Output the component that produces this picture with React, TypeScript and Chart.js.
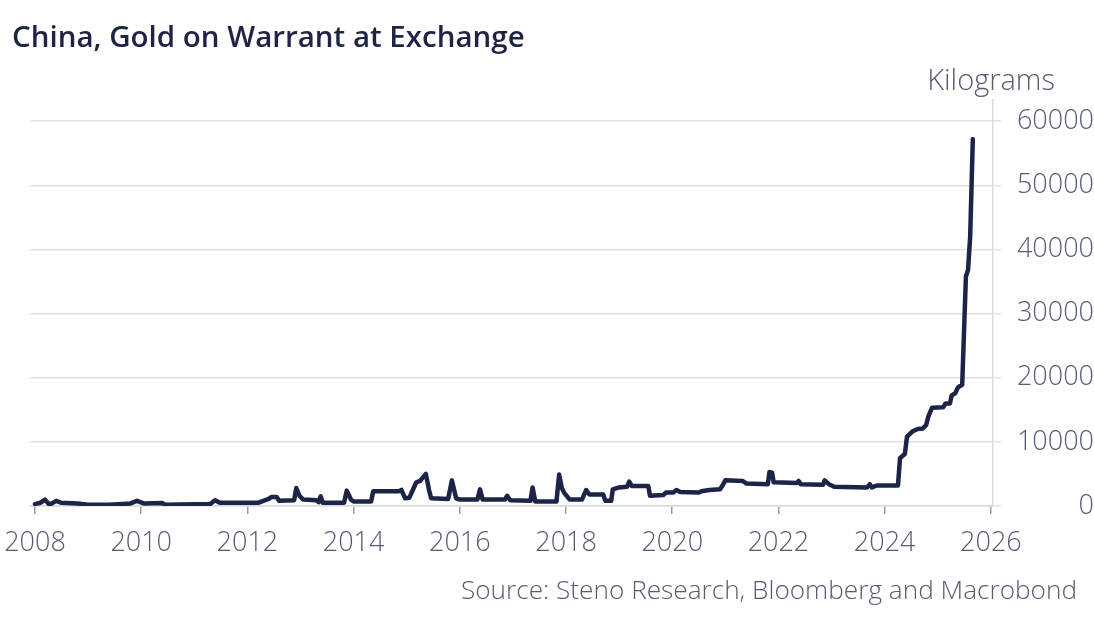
import React, { useEffect, useRef } from 'react';
import { Chart, registerables } from 'chart.js';

Chart.register(...registerables);

// Decimal-year dates and gold on warrant (kg)
const dates: number[] = [
  2008.0, 2008.1, 2008.19, 2008.26, 2008.32, 2008.4, 2008.5, 2008.8, 2009.0, 2009.4,
  2009.8, 2009.92, 2010.05, 2010.4, 2010.45, 2011.3, 2011.39, 2011.48, 2012.2, 2012.4,
  2012.45, 2012.55, 2012.6, 2012.88, 2012.92, 2012.98, 2013.05, 2013.3, 2013.34, 2013.38,
  2013.42, 2013.82, 2013.87, 2013.95, 2014.0, 2014.33, 2014.37, 2014.85, 2014.9, 2014.97,
  2015.05, 2015.18, 2015.25, 2015.36, 2015.42, 2015.46, 2015.78, 2015.85, 2015.93, 2016.0,
  2016.33, 2016.38, 2016.43, 2016.85, 2016.89, 2016.95, 2017.33, 2017.37, 2017.42, 2017.82,
  2017.87, 2017.92, 2017.97, 2018.07, 2018.3, 2018.38, 2018.44, 2018.7, 2018.74, 2018.85,
  2018.88, 2019.0, 2019.15, 2019.19, 2019.24, 2019.55, 2019.58, 2019.83, 2019.88, 2020.02,
  2020.08, 2020.15, 2020.5, 2020.55, 2020.7, 2020.9, 2020.94, 2021.0, 2021.33, 2021.4,
  2021.8, 2021.83, 2021.88, 2021.91, 2022.35, 2022.38, 2022.42, 2022.84, 2022.87, 2022.95,
  2023.05, 2023.67, 2023.72, 2023.76, 2023.85, 2024.25, 2024.29, 2024.38, 2024.42, 2024.52,
  2024.62, 2024.72, 2024.78, 2024.82, 2024.89, 2025.1, 2025.15, 2025.23, 2025.26, 2025.33,
  2025.38, 2025.46, 2025.53, 2025.57, 2025.61, 2025.66,
];

const values: number[] = [
  300, 500, 1000, 300, 400, 800, 500, 400, 200, 200,
  400, 800, 400, 450, 200, 300, 900, 500, 500, 1100,
  1400, 1400, 800, 900, 2800, 1600, 1000, 900, 600, 1500,
  500, 500, 2400, 1000, 700, 700, 2300, 2300, 2500, 1200,
  1300, 3700, 3900, 5000, 2500, 1200, 1100, 4000, 1200, 1000,
  1000, 2600, 1000, 1000, 1600, 900, 800, 2900, 700, 700,
  4900, 2800, 2000, 1000, 1000, 2500, 1800, 1800, 800, 800,
  2600, 2900, 3000, 3800, 3100, 3100, 1600, 1700, 2100, 2100,
  2500, 2200, 2100, 2300, 2500, 2600, 3100, 4000, 3900, 3500,
  3400, 5300, 5200, 3700, 3600, 3900, 3400, 3300, 4000, 3400,
  3000, 2900, 3400, 2900, 3200, 3200, 7500, 8100, 10800, 11600,
  12000, 12100, 12600, 13900, 15300, 15400, 16000, 16000, 17200, 17600,
  18500, 18900, 35800, 36800, 42000, 57200,
];

const xTickYears: number[] = [2008, 2010, 2012, 2014, 2016, 2018, 2020, 2022, 2024, 2026];
const yTickValues: number[] = [0, 10000, 20000, 30000, 40000, 50000, 60000];

const titleText = 'China, Gold on Warrant at Exchange';
const unitText = 'Kilograms';
const sourceText = 'Source: Steno Research, Bloomberg and Macrobond';

const FONT = "'Open Sans', 'Noto Sans', sans-serif";
const LABEL_COLOR = '#575c74';

export default function App() {
  const ref = useRef<HTMLCanvasElement>(null);

  useEffect(() => {
    if (!ref.current) return;
    const chart = new Chart(ref.current, {
      type: 'line',
      data: {
        datasets: [
          {
            data: dates.map((d, i) => ({ x: d, y: values[i] })),
            borderColor: '#1c2447',
            borderWidth: 4.5,
            pointRadius: 0,
            tension: 0,
            borderJoinStyle: 'round',
            borderCapStyle: 'round',
            fill: false,
          },
        ],
      },
      options: {
        responsive: false,
        animation: false,
        devicePixelRatio: 1,
        layout: { padding: { left: 30, top: 100, right: 0, bottom: 0 } },
        plugins: {
          legend: { display: false },
          tooltip: { enabled: false },
          title: { display: false },
        },
        scales: {
          x: {
            type: 'linear',
            position: 'bottom',
            min: 2007.906,
            max: 2026.04,
            afterBuildTicks: (s: any) => {
              s.ticks = xTickYears.map((v) => ({ value: v }));
            },
            afterFit: (s: any) => {
              s.height = 119;
              s.paddingLeft = 0;
              s.paddingRight = 0;
            },
            grid: {
              drawOnChartArea: false,
              drawTicks: true,
              tickLength: 8,
              color: '#9c9c9c',
              lineWidth: 1.5,
            },
            border: { display: true, color: '#dadada', width: 1.5 },
            ticks: {
              autoSkip: false,
              maxRotation: 0,
              padding: 13,
              color: LABEL_COLOR,
              font: { family: FONT, size: 27, weight: '300' as any },
              callback: (v: any) => String(v),
            },
          },
          y: {
            type: 'linear',
            position: 'right',
            min: 0,
            max: 63300,
            afterBuildTicks: (s: any) => {
              s.ticks = yTickValues.map((v) => ({ value: v }));
            },
            afterFit: (s: any) => {
              s.width = 101;
              s.paddingTop = 0;
              s.paddingBottom = 0;
            },
            grid: {
              color: '#e2e2e2',
              lineWidth: 1.5,
              tickLength: 8,
              drawTicks: true,
            },
            border: { display: true, color: '#dcdcdc', width: 1.5 },
            ticks: {
              padding: 6,
              crossAlign: 'far',
              color: LABEL_COLOR,
              font: { family: FONT, size: 27, weight: '300' as any },
              callback: (v: any) => String(v),
            },
          },
        },
      },
    });
    return () => chart.destroy();
  }, []);

  return (
    <div
      style={{
        position: 'fixed',
        left: 0,
        top: 0,
        width: 1094,
        height: 625,
        background: '#ffffff',
        overflow: 'hidden',
        fontFamily: FONT,
      }}
    >
      <canvas ref={ref} width={1094} height={625} style={{ position: 'absolute', left: 0, top: 0, width: 1094, height: 625 }} />
      <div
        style={{
          position: 'absolute',
          left: 12,
          top: 21,
          fontSize: 29.5,
          lineHeight: 1,
          fontWeight: 600,
          color: '#1e2444',
          whiteSpace: 'nowrap',
        }}
      >
        {titleText}
      </div>
      <div
        style={{
          position: 'absolute',
          right: 39,
          top: 64,
          fontSize: 29,
          lineHeight: 1,
          fontWeight: 300,
          color: LABEL_COLOR,
          whiteSpace: 'nowrap',
        }}
      >
        {unitText}
      </div>
      <div
        style={{
          position: 'absolute',
          right: 17,
          top: 576,
          fontSize: 26.2,
          lineHeight: 1,
          fontWeight: 300,
          color: LABEL_COLOR,
          whiteSpace: 'nowrap',
        }}
      >
        {sourceText}
      </div>
    </div>
  );
}
